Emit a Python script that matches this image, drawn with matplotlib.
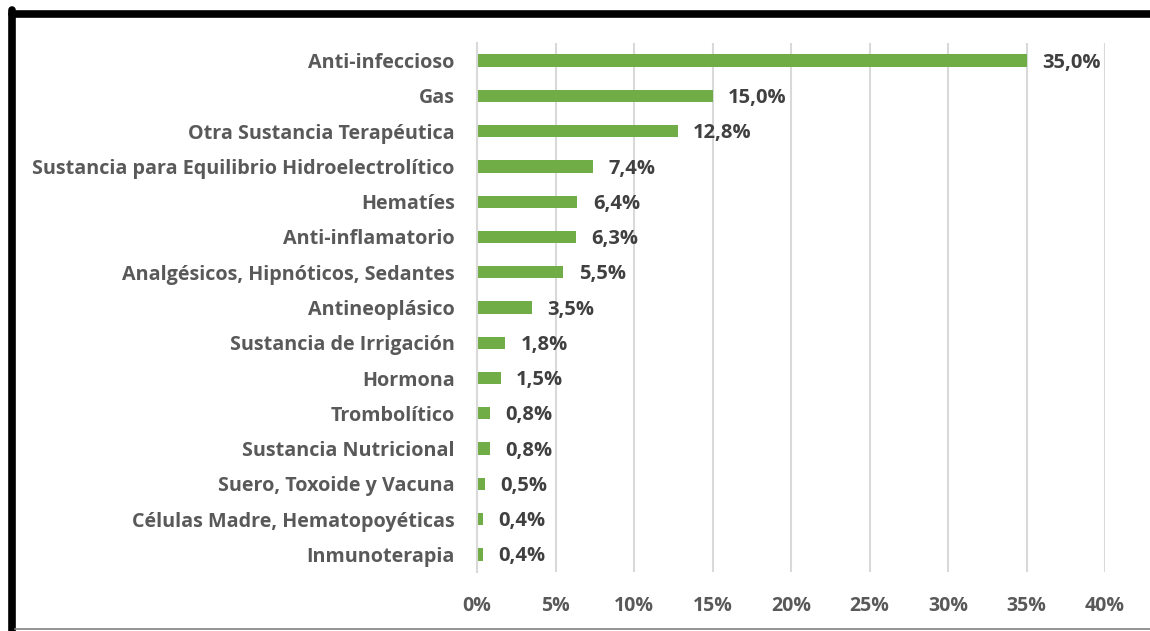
import matplotlib.pyplot as plt
from matplotlib.lines import Line2D
from matplotlib.ticker import FuncFormatter

categorias = ["Anti-infeccioso", "Gas", "Otra Sustancia Terapéutica",
              "Sustancia para Equilibrio Hidroelectrolítico", "Hematíes",
              "Anti-inflamatorio", "Analgésicos, Hipnóticos, Sedantes",
              "Antineoplásico", "Sustancia de Irrigación", "Hormona",
              "Trombolítico", "Sustancia Nutricional", "Suero, Toxoide y Vacuna",
              "Células Madre, Hematopoyéticas", "Inmunoterapia"]
valores = [35.0, 15.0, 12.8, 7.4, 6.4, 6.3, 5.5, 3.5, 1.8, 1.5, 0.8, 0.8, 0.5, 0.4, 0.4]
xticks = [0, 5, 10, 15, 20, 25, 30, 35, 40]

plt.rcParams['font.family'] = ['Open Sans', 'DejaVu Sans']
W, H = 1150, 631
fig = plt.figure(figsize=(W / 100, H / 100), dpi=100)
ax = fig.add_axes([477 / W, 1 - 572 / H, (1105 - 477) / W, (572 - 43) / H])

y = list(range(len(categorias)))
ax.barh(y, valores, height=0.35, color="#70AD47")
ax.set_xlim(0, 40)
ax.set_ylim(len(categorias) - 0.5, -0.5)
ax.set_yticks(y)
ax.set_yticklabels(categorias, fontsize=14.2, fontweight="bold", color="#595959")
ax.set_xticks(xticks)
ax.xaxis.set_major_formatter(FuncFormatter(lambda v, p: "%d%%" % v))
for lab in ax.get_xticklabels():
    lab.set_fontsize(14)
    lab.set_fontweight("bold")
    lab.set_color("#595959")
ax.tick_params(axis="y", length=0, pad=16)
ax.tick_params(axis="x", length=0, pad=17)
ax.grid(axis="x", color="#D9D9D9", linewidth=1.5)
ax.set_axisbelow(True)
for s in ["top", "right", "bottom"]:
    ax.spines[s].set_visible(False)
ax.spines["left"].set_color("#D9D9D9")
ax.spines["left"].set_linewidth(1.5)

for i, v in enumerate(valores):
    ax.annotate(("%.1f%%" % v).replace(".", ","), (v, i), xytext=(11, -1.5),
                textcoords="offset points", ha="left", va="center",
                fontsize=14.5, fontweight="bold", color="#404040")

# marco
fig.add_artist(Line2D([11.5 / W, 11.5 / W], [0, 1 - 10 / H], transform=fig.transFigure,
                      color="black", linewidth=5.5, solid_capstyle="round"))
fig.add_artist(Line2D([11.5 / W, 1], [1 - 13.5 / H, 1 - 13.5 / H], transform=fig.transFigure,
                      color="black", linewidth=5.5, solid_capstyle="round"))
fig.add_artist(Line2D([15 / W, 1], [1 - 629 / H, 1 - 629 / H], transform=fig.transFigure,
                      color="#808080", linewidth=1.2))

fig.savefig("out.png", dpi=100)
